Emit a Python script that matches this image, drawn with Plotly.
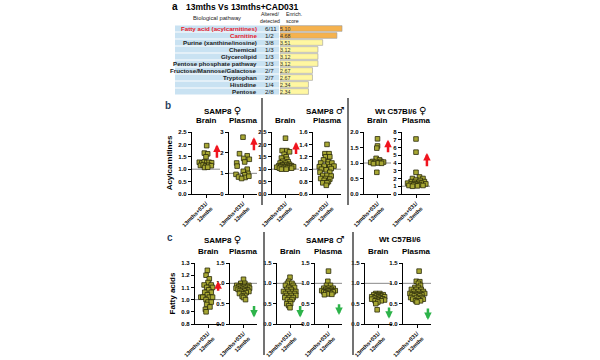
import plotly.graph_objects as go

W, H = 600, 360
FONT = "Arial, Liberation Sans, sans-serif"

# ---------------- Panel a data ----------------
pathways = ["Fatty acid (acylcarnitines)", "Carnitine", "Purine (xanthine/inosine)",
            "Chemical", "Glycerolipid", "Pentose phosphate pathway",
            "Fructose/Mannose/Galactose", "Tryptophan", "Histidine", "Pentose"]
altered_detected = ["6/11", "1/2", "3/8", "1/3", "1/3", "1/3", "2/7", "2/7", "1/4", "2/8"]
enrich_scores = [5.10, 4.68, 3.51, 3.12, 3.12, 3.12, 2.67, 2.67, 2.34, 2.34]
highlighted = [True, True, False, False, False, False, False, False, False, False]

# ---------------- Panel b data (Acylcarnitines) ----------------
b1_brain_x = [0.05, -0.12, 0.12, 0.0, -0.48, -0.3, -0.12, 0.05, 0.22, 0.4, -0.4, -0.2, 0.0, 0.2, 0.38, -0.1, 0.12]
b1_brain_y = [1.95, 1.65, 1.62, 1.5, 1.28, 1.25, 1.3, 1.27, 1.28, 1.26, 1.15, 1.17, 1.14, 1.16, 1.14, 1.07, 1.08]
b1_plasma_x = [0.0, -0.25, 0.3, 0.05, 0.45, 0.12, -0.45, -0.42, 0.3, 0.02, -0.5, 0.35, 0.12, -0.32, 0.15, 0.42, -0.1]
b1_plasma_y = [2.75, 1.95, 1.85, 1.72, 1.68, 1.55, 1.5, 1.35, 1.2, 1.1, 0.95, 1.0, 0.93, 0.82, 0.8, 0.86, 0.75]
b2_brain_x = [0.0, -0.25, 0.1, 0.3, -0.1, 0.05, -0.3, 0.1, -0.2, 0.2, -0.4, 0.0, 0.3, -0.25, 0.1,
              -0.5, -0.2, 0.2, 0.45, -0.65, -0.35, 0.0, 0.3, 0.6, -0.45, -0.15, 0.15, 0.45, -0.3, 0.05]
b2_brain_y = [2.25, 1.75, 1.75, 1.7, 1.6, 1.5, 1.45, 1.4, 1.32, 1.3, 1.25, 1.24, 1.2, 1.18, 1.17,
              1.14, 1.12, 1.13, 1.14, 1.08, 1.1, 1.09, 1.08, 1.1, 1.04, 1.04, 1.05, 1.04, 1.0, 1.0]
b2_plasma_x = [0.0, -0.15, 0.15, -0.1, 0.2, -0.25, 0.1, -0.45, 0.05, 0.35, -0.55, -0.2, 0.2, 0.5, -0.4,
               -0.05, 0.3, -0.5, 0.2, -0.3, 0.0, 0.3, -0.45, -0.1, 0.2, -0.2, 0.1, -0.3, 0.0, -0.05]
b2_plasma_y = [1.4, 1.25, 1.25, 1.2, 1.2, 1.15, 1.12, 1.1, 1.08, 1.1, 1.04, 1.05, 1.04, 1.05, 1.0,
               0.99, 1.01, 0.95, 0.95, 0.9, 0.9, 0.89, 0.85, 0.85, 0.84, 0.82, 0.8, 0.78, 0.78, 0.74]
b3_brain_x = [0.0, 0.0, -0.05, -0.1, 0.15, -0.35, 0.25, -0.5, -0.15, 0.45, 0.05, 0.3, -0.3, -0.05]
b3_brain_y = [1.78, 1.55, 1.48, 1.15, 1.1, 1.05, 1.05, 1.02, 1.02, 1.03, 1.0, 0.99, 0.98, 0.7]
b3_plasma_x = [0.0, 0.0, 0.0, 0.25, -0.25, 0.5, 0.0, 0.3, -0.35, 0.6, -0.1, 0.2, -0.6, 0.4, -0.35,
               0.0, 0.7, -0.15, 0.25, -0.5, 0.5, 0.1, -0.25]
b3_plasma_y = [7.1, 5.4, 2.8, 2.2, 2.0, 2.0, 1.8, 1.75, 1.6, 1.6, 1.5, 1.5, 1.4, 1.4, 1.3,
               1.3, 1.3, 1.2, 1.2, 1.1, 1.1, 1.05, 1.0]

# ---------------- Panel c data (Fatty acids) ----------------
c1_brain_x = [-0.05, -0.15, 0.1, 0.0, -0.3, 0.25, -0.1, 0.35, 0.05, -0.25, 0.25, -0.05, -0.55, -0.4,
              0.1, 0.35, -0.15, 0.0, 0.25, -0.1, -0.2, -0.15, 0.15]
c1_brain_y = [1.24, 1.2, 1.17, 1.14, 1.12, 1.12, 1.1, 1.1, 1.08, 1.06, 1.06, 1.04, 1.02, 1.02,
              1.02, 1.02, 1.0, 0.98, 0.98, 0.96, 0.92, 0.9, 0.94]
c1_plasma_x = [0.0, -0.2, 0.1, -0.5, -0.2, 0.1, 0.4, -0.35, 0.0, 0.3, -0.55, -0.2, 0.15, 0.45,
               -0.4, -0.05, 0.3, -0.25, 0.1, 0.4, -0.15, 0.2, -0.3, 0.0, 0.1, -0.1, 0.0, 0.15]
c1_plasma_y = [1.1, 1.0, 1.0, 0.95, 0.94, 0.95, 0.95, 0.92, 0.91, 0.92, 0.88, 0.88, 0.88, 0.88,
               0.85, 0.85, 0.84, 0.82, 0.81, 0.8, 0.78, 0.77, 0.75, 0.74, 0.7, 0.68, 0.65, 0.6]
c2_brain_x = [0.0, -0.1, -0.2, 0.15, -0.35, 0.25, -0.1, 0.35, -0.25, 0.1, -0.5, -0.15, 0.2, 0.45, -0.35,
              0.0, 0.35, -0.25, 0.1, 0.45, -0.4, -0.05, 0.25, -0.2, 0.15, 0.0, -0.25, 0.05, -0.1, 0.0]
c2_brain_y = [1.15, 1.05, 1.0, 1.0, 0.95, 0.95, 0.9, 0.9, 0.85, 0.85, 0.8, 0.8, 0.8, 0.8, 0.75,
              0.75, 0.75, 0.7, 0.7, 0.7, 0.65, 0.65, 0.65, 0.6, 0.6, 0.55, 0.5, 0.5, 0.45, 0.4]
c2_plasma_x = [0.0, -0.05, -0.15, 0.15, -0.35, 0.0, 0.35, -0.2, 0.2, -0.5, -0.1, 0.25, 0.5, -0.35,
               0.0, 0.35, -0.2, 0.15, -0.05, -0.3, 0.25]
c2_plasma_y = [1.3, 1.05, 0.95, 0.95, 0.88, 0.88, 0.88, 0.85, 0.85, 0.82, 0.82, 0.82, 0.82, 0.79,
               0.8, 0.79, 0.77, 0.76, 0.74, 0.72, 0.73]
c3_brain_x = [-0.2, 0.1, -0.35, 0.0, 0.35, -0.15, 0.2, -0.5, 0.0, 0.45, -0.3, 0.1, -0.5, -0.1, 0.3,
              0.0, 0.45, -0.25, 0.2, -0.05, -0.2, -0.1]
c3_brain_y = [0.75, 0.75, 0.72, 0.72, 0.72, 0.69, 0.69, 0.67, 0.67, 0.67, 0.64, 0.64, 0.61, 0.61, 0.62,
              0.59, 0.59, 0.57, 0.57, 0.54, 0.5, 0.35]
c3_plasma_x = [0.15, -0.05, 0.2, 0.1, 0.25, -0.15, 0.1, -0.4, -0.05, 0.3, -0.25, 0.1, 0.45, -0.5, -0.15,
               0.2, 0.55, -0.35, 0.0, 0.35, -0.2, 0.2, -0.45, -0.05, 0.35, -0.3, 0.1, 0.45, -0.1, 0.25, 0.0]
c3_plasma_y = [1.3, 1.05, 1.04, 1.0, 0.95, 0.9, 0.9, 0.85, 0.85, 0.85, 0.8, 0.8, 0.8, 0.75, 0.75,
               0.75, 0.75, 0.72, 0.72, 0.72, 0.69, 0.69, 0.65, 0.65, 0.65, 0.61, 0.61, 0.61, 0.57, 0.57, 0.54]

x_tick_label = "13mths+031/<br>13mths"

fig = go.Figure()


def px2x(p):
    return p / W


def px2y(p):
    return 1 - p / H


# ---------------- Panel a ----------------
bar_colors = ["#F5B24E" if h else "#FFF7A1" for h in highlighted]
rows = list(range(len(pathways)))
fig.add_trace(go.Bar(
    x=enrich_scores, y=rows, orientation="h", marker=dict(color=bar_colors, line=dict(color="#9a9a9a", width=0.6)),
    width=0.82, text=["%.2f" % v for v in enrich_scores], textposition="inside", insidetextanchor="start",
    textfont=dict(size=6.5, color="#333", family=FONT), xaxis="x", yaxis="y", showlegend=False,
    cliponaxis=False, hoverinfo="skip",
))
fig.update_layout(
    xaxis=dict(domain=[px2x(280), px2x(352)], range=[0, 72 / 12.16], visible=False, anchor="y", automargin=False),
    yaxis=dict(domain=[px2y(95), px2y(25)], range=[9.5, -0.5], visible=False, anchor="x", automargin=False),
)
shapes = []
annotations = []
for i, (name, ad, hl) in enumerate(zip(pathways, altered_detected, highlighted)):
    shapes.append(dict(type="rect", xref="paper", yref="y", x0=px2x(175), x1=px2x(279),
                       y0=i - 0.43, y1=i + 0.43, fillcolor="#C9E2F2", line=dict(width=0), layer="below"))
    annotations.append(dict(xref="paper", yref="y", x=px2x(259), y=i, text="<b>%s</b>" % name,
                            showarrow=False, xanchor="right", yanchor="middle",
                            font=dict(size=6.2, family=FONT, color="#E8202A" if hl else "#222")))
    annotations.append(dict(xref="paper", yref="y", x=px2x(263), y=i, text=ad,
                            showarrow=False, xanchor="left", yanchor="middle",
                            font=dict(size=6.2, family=FONT, color="#222")))

annotations += [
    dict(xref="paper", yref="paper", x=px2x(170), y=px2y(-1), text="<b>a</b>", showarrow=False,
         xanchor="left", yanchor="top", font=dict(size=10, family=FONT, color="#000")),
    dict(xref="paper", yref="paper", x=px2x(242), y=px2y(0), text="<b>13mths Vs 13mths+CAD031</b>",
         showarrow=False, xanchor="center", yanchor="top", font=dict(size=8.5, family=FONT, color="#000")),
    dict(xref="paper", yref="paper", x=px2x(217), y=px2y(17.5), text="Biological pathway", showarrow=False,
         xanchor="center", yanchor="middle", font=dict(size=5.8, family=FONT, color="#222")),
    dict(xref="paper", yref="paper", x=px2x(270), y=px2y(17.8), text="Altered/<br>detected", showarrow=False,
         xanchor="center", yanchor="middle", font=dict(size=5.2, family=FONT, color="#222")),
    dict(xref="paper", yref="paper", x=px2x(284), y=px2y(17.8), text="Enrich.<br>score", showarrow=False,
         xanchor="left", yanchor="middle", align="left", font=dict(size=5.2, family=FONT, color="#222")),
]

# ---------------- Scatter panels ----------------
MARK = dict(symbol="square", size=4.6, color="#A8A834", line=dict(color="#2a2a0a", width=0.8))

plots = [
    (b1_brain_x, b1_brain_y, 192, 220, 132, 194, [0, 2.5], [0, 0.5, 1, 1.5, 2, 2.5],
     ["0.0", "0.5", "1.0", "1.5", "2.0", "2.5"], "Brain", ("up", 1.4, 2.0), "Acylcarnitines"),
    (b1_plasma_x, b1_plasma_y, 229, 257, 132, 194, [0, 3], [0, 1, 2, 3],
     ["0", "1", "2", "3"], "Plasma", ("up", 2.05, 2.75), None),
    (b2_brain_x, b2_brain_y, 272, 299, 132, 194, [0, 2.5], [0, 0.5, 1, 1.5, 2, 2.5],
     ["0.0", "0.5", "1.0", "1.5", "2.0", "2.5"], "Brain", ("up", 1.55, 2.1), None),
    (b2_plasma_x, b2_plasma_y, 313, 341, 132, 194, [0.6, 1.6], [0.6, 0.8, 1.0, 1.2, 1.4, 1.6],
     ["0.6", "0.8", "1.0", "1.2", "1.4", "1.6"], "Plasma", None, None),
    (b3_brain_x, b3_brain_y, 364, 391, 132, 194, [0, 2.0], [0, 0.5, 1, 1.5, 2],
     ["0.0", "0.5", "1.0", "1.5", "2.0"], "Brain", ("up", 1.3, 1.75), None),
    (b3_plasma_x, b3_plasma_y, 402, 430, 132, 194, [0, 8], [0, 1, 2, 3, 4, 5, 6, 7, 8],
     ["0", "1", "2", "3", "4", "5", "6", "7", "8"], "Plasma", ("up", 3.4, 5.3), None),
    (c1_brain_x, c1_brain_y, 195, 221, 263, 324, [0.8, 1.3], [0.8, 0.9, 1.0, 1.1, 1.2, 1.3],
     ["0.8", "0.9", "1.0", "1.1", "1.2", "1.3"], "Brain", ("up", 1.06, 1.15), "Fatty acids"),
    (c1_plasma_x, c1_plasma_y, 230, 257, 263, 324, [0, 1.5], [0, 0.5, 1.0, 1.5],
     ["0.0", "0.5", "1.0", "1.5"], "Plasma", ("down", 0.48, 0.16), None),
    (c2_brain_x, c2_brain_y, 277, 303, 263, 324, [0, 1.5], [0, 0.5, 1.0, 1.5],
     ["0.0", "0.5", "1.0", "1.5"], "Brain", ("down", 0.48, 0.16), None),
    (c2_plasma_x, c2_plasma_y, 315, 342, 263, 324, [0, 1.5], [0, 0.5, 1.0, 1.5],
     ["0.0", "0.5", "1.0", "1.5"], "Plasma", ("down", 0.52, 0.22), None),
    (c3_brain_x, c3_brain_y, 365, 392, 263, 324, [0, 1.5], [0, 0.5, 1.0, 1.5],
     ["0.0", "0.5", "1.0", "1.5"], "Brain", ("down", 0.44, 0.13), None),
    (c3_plasma_x, c3_plasma_y, 403, 431, 263, 324, [0, 1.5], [0, 0.5, 1.0, 1.5],
     ["0.0", "0.5", "1.0", "1.5"], "Plasma", ("down", 0.42, 0.1), None),
]

layout_axes = {}
for k, (xs, ys, x0, x1, yt, yb, yr, tv, tt, title, arrow, ytitle) in enumerate(plots):
    n = k + 2
    xa, ya = "x%d" % n, "y%d" % n
    fig.add_trace(go.Scatter(x=xs, y=ys, mode="markers", marker=MARK, xaxis=xa, yaxis=ya,
                             showlegend=False, cliponaxis=False))
    layout_axes["xaxis%d" % n] = dict(
        domain=[px2x(x0), px2x(x1)], range=[-1, 1], anchor=ya, showgrid=False, zeroline=False,
        showline=True, linecolor="#000", linewidth=1.3, ticks="outside", ticklen=3, tickwidth=1,
        tickcolor="#000", tickvals=[0], ticktext=[x_tick_label], tickangle=-45, automargin=False,
        tickfont=dict(size=5.5, family=FONT, color="#000", weight="bold"),
    )
    yd = dict(
        domain=[px2y(yb), px2y(yt)], range=yr, anchor=xa, showgrid=False, zeroline=False,
        showline=True, linecolor="#000", linewidth=1.3, ticks="outside", ticklen=3, tickwidth=1,
        tickcolor="#000", tickvals=tv, ticktext=tt, automargin=False,
        tickfont=dict(size=6, family=FONT, color="#000", weight="bold"),
    )
    if ytitle:
        yd["title"] = dict(text="<b>%s</b>" % ytitle, font=dict(size=8, family=FONT, color="#000"), standoff=4)
    layout_axes["yaxis%d" % n] = yd
    shapes.append(dict(type="line", xref="%s domain" % xa, yref=ya, x0=0, x1=1, y0=1, y1=1,
                       line=dict(color="#8a8a8a", width=1), layer="below"))
    annotations.append(dict(xref="paper", yref="paper", x=px2x((x0 + x1) / 2), y=px2y(yt - 5),
                            text="<b>%s</b>" % title, showarrow=False, xanchor="center", yanchor="bottom",
                            font=dict(size=8, family=FONT, color="#000")))
    if arrow:
        d, tail, head = arrow
        annotations.append(dict(xref=xa, yref=ya, axref=xa, ayref=ya, x=0.78, y=head, ax=0.78, ay=tail,
                                text="", showarrow=True, arrowhead=2, arrowsize=0.6, arrowwidth=2.5,
                                arrowcolor="#F0141E" if d == "up" else "#2DB34A"))

fig.update_layout(**layout_axes)

# group headers and panel letters
SYM = '<span style="font-family:DejaVu Sans;font-size:10px">%s</span>'
groups = [
    ("SAMP8 " + SYM % "\u2640", 222, 110), ("SAMP8 " + SYM % "\u2642", 325, 110),
    ("Wt C57Bl/6 " + SYM % "\u2640", 400, 110),
    ("SAMP8 " + SYM % "\u2640", 222, 239), ("SAMP8 " + SYM % "\u2642", 325, 239), ("Wt C57Bl/6", 400, 239),
]
for txt, gx, gy in groups:
    annotations.append(dict(xref="paper", yref="paper", x=px2x(gx), y=px2y(gy), text="<b>%s</b>" % txt,
                            showarrow=False, xanchor="center", yanchor="middle",
                            font=dict(size=8, family=FONT, color="#000")))
annotations.append(dict(xref="paper", yref="paper", x=px2x(163), y=px2y(105), text="<b>b</b>",
                        showarrow=False, xanchor="left", yanchor="middle", font=dict(size=10, family=FONT)))
annotations.append(dict(xref="paper", yref="paper", x=px2x(165), y=px2y(237), text="<b>c</b>",
                        showarrow=False, xanchor="left", yanchor="middle", font=dict(size=10, family=FONT)))

# separators
for sx, sy0, sy1 in [(262, 98, 205), (348, 98, 205), (264, 232, 355), (353, 232, 355)]:
    shapes.append(dict(type="line", xref="paper", yref="paper", x0=px2x(sx), x1=px2x(sx),
                       y0=px2y(sy0), y1=px2y(sy1), line=dict(color="#444", width=1.5)))

fig.update_layout(
    width=W, height=H, margin=dict(l=0, r=0, t=0, b=0, autoexpand=False), paper_bgcolor="white",
    plot_bgcolor="rgba(0,0,0,0)",
    shapes=shapes, annotations=annotations, font=dict(family=FONT), showlegend=False,
    bargap=0.1,
)

fig.write_html("out.html", config={"displayModeBar": False},
               post_script="document.body.style.margin='0px';document.body.style.overflow='hidden';")
